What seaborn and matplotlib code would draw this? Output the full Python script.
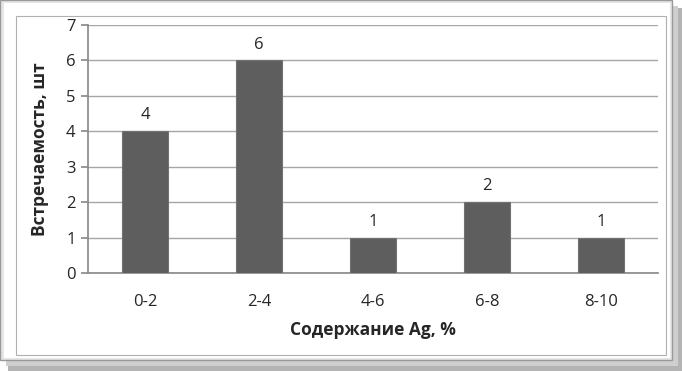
import pandas as pd
import matplotlib.pyplot as plt
import seaborn as sns
from matplotlib.patches import Rectangle

# данные с диаграммы
categories = ['0-2', '2-4', '4-6', '6-8', '8-10']
counts = [4, 6, 1, 2, 1]

df = pd.DataFrame({'range': categories, 'count': counts})

sns.set_theme(style='white')
plt.rcParams['font.family'] = ['Open Sans', 'DejaVu Sans']

W, H = 682, 371
fig = plt.figure(figsize=(W / 100, H / 100), dpi=100)


def px_rect(x0, y0, x1, y1, **kw):
    # прямоугольник в пикселях (начало сверху слева)
    fig.patches.append(Rectangle((x0 / W, 1 - y1 / H), (x1 - x0) / W, (y1 - y0) / H,
                                 transform=fig.transFigure, **kw))


# рамка с тенью справа и снизу
px_rect(8, 8, 682, 371, facecolor='#b4b4b4', edgecolor='none', zorder=-5)
px_rect(6, 6, 678, 366, facecolor='#cfcfcf', edgecolor='none', zorder=-4)
px_rect(0, 0, 672, 360, facecolor='#e6e6e6', edgecolor='#9a9a9a', lw=1, zorder=-3)
px_rect(4, 3, 670, 358, facecolor='white', edgecolor='none', zorder=-2)
px_rect(16, 16, 666, 355, facecolor='white', edgecolor='#b0b0b0', lw=0.8, zorder=-1)

ax = fig.add_axes([88 / W, 1 - 273 / H, (658 - 88) / W, (273 - 25) / H])
sns.barplot(data=df, x='range', y='count', ax=ax, color='#5e5e5e',
            width=0.40, saturation=1, edgecolor='#727272', linewidth=0.8, zorder=3)

ax.set_ylim(0, 7)
ax.set_xlim(-0.5, len(categories) - 0.5)
ax.set_yticks(range(0, 8))
ax.yaxis.grid(True, color='#a6a6a6', linewidth=1)
ax.set_axisbelow(True)
for s in ['top', 'right']:
    ax.spines[s].set_visible(False)
ax.spines['left'].set_color('#8c8c8c')
ax.spines['bottom'].set_color('#8c8c8c')
ax.tick_params(axis='y', left=True, length=5, color='#8c8c8c', labelsize=12, pad=4)
ax.tick_params(axis='x', bottom=False, labelsize=12, pad=9)

for i, v in enumerate(counts):
    ax.text(i, v + 0.22, str(v), ha='center', va='bottom', fontsize=12)

ax.set_xlabel('Содержание Ag, %', fontsize=12.5, fontweight='bold', labelpad=8)
ax.set_ylabel('Встречаемость, шт', fontsize=12.5, fontweight='bold', labelpad=12)

fig.savefig('out.png', dpi=100)
